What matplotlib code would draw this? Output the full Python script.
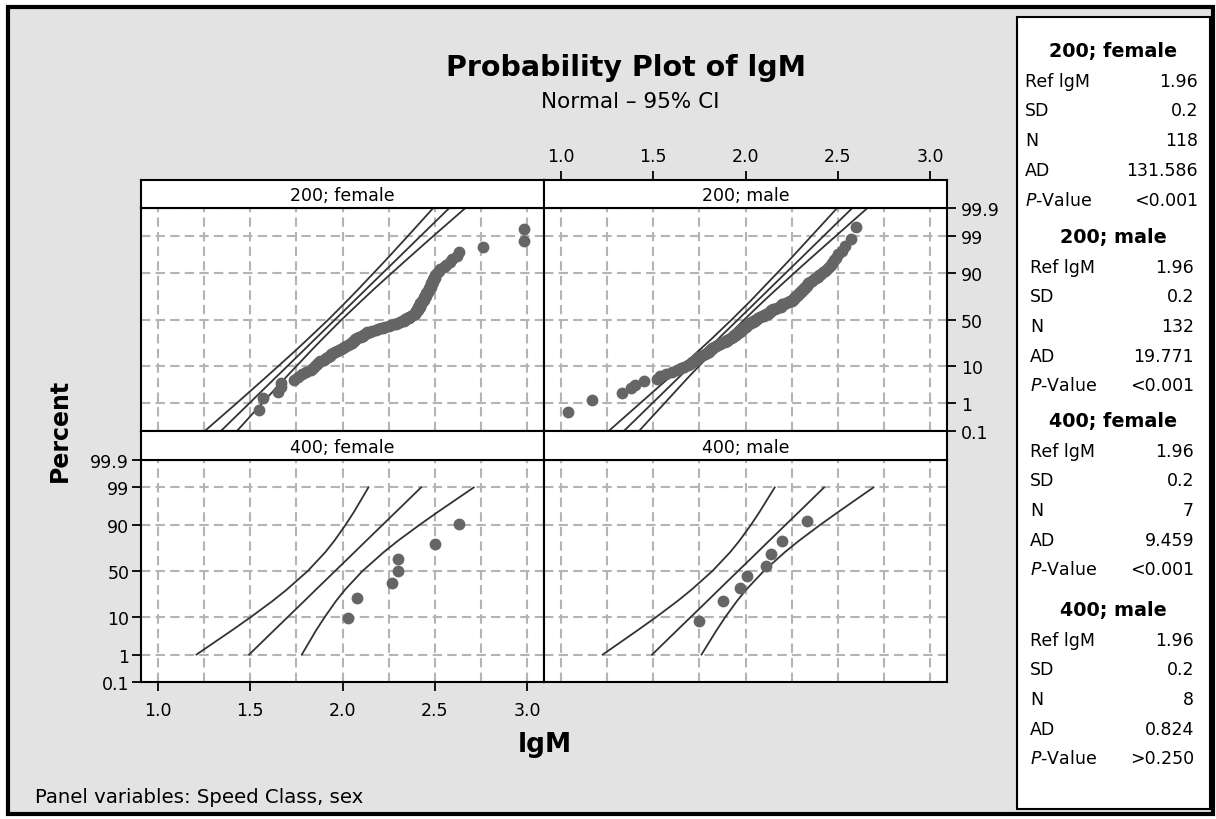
import numpy as np
import matplotlib
matplotlib.use('Agg')
import matplotlib.pyplot as plt
from matplotlib.patches import Rectangle
from matplotlib.ticker import NullLocator
from statistics import NormalDist

W, H = 1216, 820

# ---- data ----
panel_names = ['200; female', '200; male', '400; female', '400; male']

# sorted lgM values per panel
x_200_female = [
    1.55, 1.57, 1.65, 1.67, 1.67, 1.74, 1.76, 1.78, 1.80, 1.83,
    1.84, 1.85, 1.86, 1.87, 1.88, 1.90, 1.91, 1.92, 1.93, 1.94,
    1.95, 1.96, 1.97, 1.98, 1.99, 2.00, 2.01, 2.02, 2.03, 2.04,
    2.05, 2.05, 2.06, 2.07, 2.07, 2.08, 2.09, 2.10, 2.11, 2.11,
    2.12, 2.13, 2.13, 2.15, 2.16, 2.18, 2.19, 2.21, 2.22, 2.23,
    2.25, 2.26, 2.28, 2.29, 2.30, 2.31, 2.32, 2.33, 2.34, 2.34,
    2.35, 2.36, 2.36, 2.37, 2.38, 2.38, 2.39, 2.39, 2.40, 2.40,
    2.40, 2.41, 2.41, 2.41, 2.41, 2.42, 2.42, 2.42, 2.42, 2.42,
    2.43, 2.43, 2.43, 2.44, 2.44, 2.44, 2.44, 2.45, 2.45, 2.45,
    2.45, 2.46, 2.46, 2.47, 2.47, 2.47, 2.48, 2.48, 2.48, 2.48,
    2.49, 2.49, 2.49, 2.50, 2.50, 2.50, 2.51, 2.52, 2.53, 2.55,
    2.56, 2.58, 2.59, 2.62, 2.63, 2.76, 2.98, 2.98]
x_200_male = [
    1.04, 1.17, 1.33, 1.38, 1.40, 1.45, 1.52, 1.54, 1.57, 1.60,
    1.63, 1.65, 1.67, 1.69, 1.70, 1.71, 1.72, 1.73, 1.74, 1.75,
    1.76, 1.77, 1.78, 1.79, 1.80, 1.80, 1.81, 1.82, 1.82, 1.83,
    1.84, 1.85, 1.86, 1.87, 1.88, 1.89, 1.90, 1.90, 1.91, 1.92,
    1.92, 1.93, 1.94, 1.94, 1.95, 1.95, 1.96, 1.96, 1.97, 1.97,
    1.97, 1.98, 1.98, 1.99, 1.99, 2.00, 2.00, 2.01, 2.01, 2.02,
    2.02, 2.03, 2.04, 2.04, 2.05, 2.05, 2.06, 2.07, 2.07, 2.08,
    2.09, 2.10, 2.10, 2.11, 2.12, 2.12, 2.13, 2.13, 2.14, 2.14,
    2.15, 2.16, 2.17, 2.18, 2.19, 2.19, 2.20, 2.20, 2.21, 2.22,
    2.23, 2.24, 2.25, 2.25, 2.26, 2.26, 2.27, 2.27, 2.28, 2.28,
    2.29, 2.29, 2.30, 2.30, 2.31, 2.31, 2.32, 2.32, 2.33, 2.33,
    2.34, 2.34, 2.35, 2.36, 2.37, 2.38, 2.39, 2.40, 2.41, 2.42,
    2.43, 2.44, 2.45, 2.46, 2.47, 2.48, 2.49, 2.50, 2.52, 2.54,
    2.57, 2.60]
x_400_female = [2.03, 2.08, 2.27, 2.30, 2.30, 2.50, 2.63]
x_400_male = [1.75, 1.88, 1.97, 2.01, 2.11, 2.14, 2.20, 2.33]

# reference line and 95% CI read at these percents
band_pct = [0.1, 1, 5, 10, 20, 30, 50, 70, 80, 90, 95, 99, 99.9]
fit_x = [1.342, 1.495, 1.631, 1.704, 1.792, 1.855, 1.960, 2.065, 2.128, 2.216, 2.289, 2.425, 2.578]
hw_200_female = [0.087, 0.069, 0.055, 0.049, 0.042, 0.039, 0.036, 0.039, 0.042, 0.049, 0.055, 0.069, 0.087]
hw_200_male = [0.082, 0.066, 0.052, 0.046, 0.040, 0.036, 0.034, 0.036, 0.040, 0.046, 0.052, 0.066, 0.082]
hw_400_female = [0.356, 0.285, 0.227, 0.200, 0.172, 0.158, 0.148, 0.158, 0.172, 0.200, 0.227, 0.285, 0.356]
hw_400_male = [0.333, 0.267, 0.213, 0.187, 0.161, 0.148, 0.139, 0.148, 0.161, 0.187, 0.213, 0.267, 0.333]

# summary table
ref_lgm = ['1.96', '1.96', '1.96', '1.96']
sd_vals = ['0.2', '0.2', '0.2', '0.2']
n_vals = ['118', '132', '7', '8']
ad_vals = ['131.586', '19.771', '9.459', '0.824']
p_vals = ['<0.001', '<0.001', '<0.001', '>0.250']

pct_ticks = [0.1, 1, 10, 50, 90, 99, 99.9]
pct_labels = ['0.1', '1', '10', '50', '90', '99', '99.9']
x_major = [1.0, 1.5, 2.0, 2.5, 3.0]
x_minor = [1.25, 1.75, 2.25, 2.75]

# ---- normal probability scale ----
_nd = NormalDist()
_ppf = np.vectorize(_nd.inv_cdf, otypes=[float])
_cdf = np.vectorize(_nd.cdf, otypes=[float])


def pct_to_z(p):
    p = np.clip(np.asarray(p, dtype=float), 1e-7, 100 - 1e-7)
    return _ppf(p / 100.0)


def z_to_pct(z):
    return _cdf(np.asarray(z, dtype=float)) * 100.0


plt.rcParams['font.family'] = ['DejaVu Sans']
plt.rcParams['mathtext.fontset'] = 'dejavusans'

fig = plt.figure(figsize=(W / 100, H / 100), dpi=100)
fig.patch.set_facecolor('white')


def fx(x):
    return x / W


def fy(y):
    return 1 - y / H


def px_axes(x0, y0, x1, y1):
    return fig.add_axes([x0 / W, 1 - y1 / H, (x1 - x0) / W, (y1 - y0) / H])


# gray panel with frame, and the stats box
fig.add_artist(Rectangle((fx(7.5), fy(815)), (1213 - 7.5) / W, (815 - 7.5) / H,
                         transform=fig.transFigure, facecolor='#e3e3e3',
                         edgecolor='black', lw=3, zorder=0))
fig.add_artist(Rectangle((fx(1017), fy(810)), (1210 - 1017) / W, (810 - 18) / H,
                         transform=fig.transFigure, facecolor='white',
                         edgecolor='black', lw=1.5, zorder=1))

cols = [(141, 544), (544, 947)]
rows = [(209, 432), (461, 683)]
strips = [(181, 209), (432, 461)]
xs_all = [x_200_female, x_200_male, x_400_female, x_400_male]
hw_all = [hw_200_female, hw_200_male, hw_400_female, hw_400_male]

line_c = '#333333'
dot_c = '#656565'
grid_c = '#b4b4b4'
XLIM = (0.91, 3.09)

for k in range(4):
    r, c = divmod(k, 2)
    ax = px_axes(cols[c][0], rows[r][0], cols[c][1], rows[r][1])
    ax.set_yscale('function', functions=(pct_to_z, z_to_pct))
    ax.set_xlim(*XLIM)
    ax.set_ylim(0.1, 99.9)
    ax.set_xticks(x_major)
    ax.set_xticks(x_minor, minor=True)
    ax.set_yticks(pct_ticks, labels=pct_labels)
    ax.yaxis.set_minor_locator(NullLocator())
    ax.set_xticklabels(['1.0', '1.5', '2.0', '2.5', '3.0'])
    ax.grid(True, which='both', color=grid_c, lw=1.5, linestyle=(0, (4.5, 2.5)))
    ax.set_axisbelow(True)
    for s in ax.spines.values():
        s.set_linewidth(1.5)

    ax.tick_params(which='both', bottom=False, top=False, left=False, right=False,
                   labelbottom=False, labelleft=False, labeltop=False, labelright=False)
    ax.tick_params(which='major', length=6.5, width=1.3, direction='out', labelsize=12.5)
    ax.tick_params(which='minor', length=0)
    if r == 1 and c == 0:
        ax.tick_params(which='major', left=True, labelleft=True, bottom=True, labelbottom=True)
        ax.tick_params(axis='y', pad=2)
        ax.tick_params(axis='x', pad=7)
    if r == 0 and c == 1:
        ax.tick_params(which='major', right=True, labelright=True, pad=3.5)

    fit = np.array(fit_x)
    hw = np.array(hw_all[k])
    pct = np.array(band_pct)
    if r == 1:
        fit, hw, pct = fit[1:-1], hw[1:-1], pct[1:-1]
    for xl in (fit - hw, fit, fit + hw):
        ax.plot(xl, pct, color=line_c, lw=1.3, zorder=3)

    xs = np.array(xs_all[k])
    n = len(xs)
    # median-rank plotting positions
    pos = (np.arange(1, n + 1) - 0.3) / (n + 0.4) * 100
    ax.plot(xs, pos, 'o', color=dot_c, ms=8.5, mec='none', zorder=4)

    # strip header
    sax = px_axes(cols[c][0], strips[r][0], cols[c][1], strips[r][1])
    sax.set_facecolor('white')
    sax.set_xlim(*XLIM)
    sax.set_yticks([])
    for s in sax.spines.values():
        s.set_linewidth(1.5)
    sax.text(0.5, 0.45, panel_names[k], transform=sax.transAxes,
             ha='center', va='center', fontsize=12.5)
    if r == 0 and c == 1:
        sax.set_xticks(x_major, labels=['1.0', '1.5', '2.0', '2.5', '3.0'])
        sax.tick_params(axis='x', bottom=False, labelbottom=False, top=True, labeltop=True,
                        length=6.5, width=1.3, direction='out', labelsize=12.5, pad=4)
    else:
        sax.set_xticks([])

# titles and axis labels
fig.text(fx(626), fy(68), 'Probability Plot of lgM', ha='center', va='center',
         fontsize=20.5, fontweight='bold')
fig.text(fx(630), fy(102), 'Normal – 95% CI', ha='center', va='center', fontsize=15.5)
fig.text(fx(545), fy(745), 'lgM', ha='center', va='center', fontsize=19, fontweight='bold')
fig.text(fx(60), fy(430), 'Percent', ha='center', va='center', rotation=90,
         fontsize=17, fontweight='bold')
fig.text(fx(35), fy(798), 'Panel variables: Speed Class, sex', ha='left', va='center',
         fontsize=14.2)

# stats box
head_y = [52, 238, 422, 611]
lab_x = [1025, 1030, 1030, 1030]
val_x = [1198, 1194, 1194, 1194]
row_gap = 29.7
for k in range(4):
    fig.text(fx(1113), fy(head_y[k]), panel_names[k], ha='center', va='center',
             fontsize=13.8, fontweight='bold')
    labels = ['Ref lgM', 'SD', 'N', 'AD', r'$\mathit{P}$-Value']
    vals = [ref_lgm[k], sd_vals[k], n_vals[k], ad_vals[k], p_vals[k]]
    for j in range(5):
        yy = head_y[k] + row_gap * (j + 1)
        fig.text(fx(lab_x[k]), fy(yy), labels[j], ha='left', va='center', fontsize=12.5)
        fig.text(fx(val_x[k]), fy(yy), vals[j], ha='right', va='center', fontsize=12.5)

fig.savefig('out.png', dpi=100, facecolor=fig.get_facecolor())
